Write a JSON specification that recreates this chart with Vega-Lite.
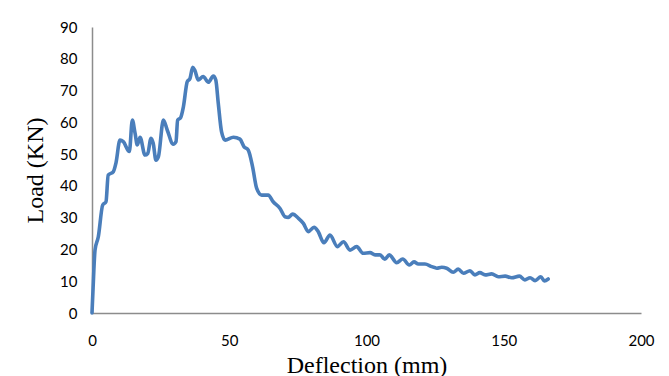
{
  "$schema": "https://vega.github.io/schema/vega-lite/v6.json",
  "autosize": {"type": "none"},
  "width": 549,
  "height": 286,
  "padding": {"left": 92, "top": 27, "right": 28, "bottom": 63},
  "background": "white",
  "config": {"view": {"stroke": null}},
  "data": {"values": [
    {"d": 0, "load": 0},
    {"d": 0.4, "load": 8},
    {"d": 1.1, "load": 19.8},
    {"d": 2.3, "load": 24},
    {"d": 3.9, "load": 34},
    {"d": 5.1, "load": 35},
    {"d": 5.9, "load": 43.4},
    {"d": 7.8, "load": 44.5},
    {"d": 8.7, "load": 47.1},
    {"d": 10.2, "load": 54.4},
    {"d": 11.4, "load": 53.9},
    {"d": 13.6, "load": 50.8},
    {"d": 14.7, "load": 60.7},
    {"d": 15.7, "load": 56.5},
    {"d": 16.5, "load": 52.9},
    {"d": 17.5, "load": 55.3},
    {"d": 19.3, "load": 49.7},
    {"d": 20.3, "load": 50.2},
    {"d": 21.5, "load": 55},
    {"d": 22.3, "load": 53.4},
    {"d": 23.3, "load": 48.1},
    {"d": 24.2, "load": 49.2},
    {"d": 26, "load": 60.7},
    {"d": 27.4, "load": 57.6},
    {"d": 29.6, "load": 53.1},
    {"d": 30.6, "load": 53.9},
    {"d": 31.2, "load": 60.7},
    {"d": 32.3, "load": 61.5},
    {"d": 33.3, "load": 64.9},
    {"d": 34.7, "load": 72.8},
    {"d": 35.7, "load": 73.8},
    {"d": 36.7, "load": 77.3},
    {"d": 37.5, "load": 76.3},
    {"d": 38.7, "load": 73.3},
    {"d": 40.5, "load": 74.4},
    {"d": 42.4, "load": 72.6},
    {"d": 44.2, "load": 74.6},
    {"d": 45.1, "load": 73.3},
    {"d": 46, "load": 66},
    {"d": 47.2, "load": 57},
    {"d": 48.5, "load": 54.4},
    {"d": 51.5, "load": 55.3},
    {"d": 53.9, "load": 54.7},
    {"d": 55.4, "load": 52.3},
    {"d": 56.9, "load": 51.3},
    {"d": 58.5, "load": 46},
    {"d": 60, "load": 39.2},
    {"d": 61.8, "load": 37.1},
    {"d": 64.2, "load": 37.1},
    {"d": 66, "load": 35},
    {"d": 68.5, "load": 32.9},
    {"d": 70.3, "load": 30.3},
    {"d": 71.5, "load": 30.1},
    {"d": 73.1, "load": 31.1},
    {"d": 75.2, "load": 29.8},
    {"d": 77, "load": 28.2},
    {"d": 78.8, "load": 25.6},
    {"d": 80.9, "load": 27},
    {"d": 82.4, "load": 25.6},
    {"d": 84.5, "load": 22.1},
    {"d": 86.7, "load": 24.5},
    {"d": 89.4, "load": 20.9},
    {"d": 91.6, "load": 22.4},
    {"d": 94, "load": 19.8},
    {"d": 96.4, "load": 20.9},
    {"d": 98.8, "load": 18.8},
    {"d": 101.3, "load": 19},
    {"d": 103.1, "load": 18.3},
    {"d": 104.9, "load": 18.3},
    {"d": 106.7, "load": 16.9},
    {"d": 108.3, "load": 18.3},
    {"d": 111, "load": 15.8},
    {"d": 113.2, "load": 17},
    {"d": 115.6, "load": 15.1},
    {"d": 117.3, "load": 16.1},
    {"d": 118.9, "load": 15.4},
    {"d": 121.3, "load": 15.4},
    {"d": 123.8, "load": 14.6},
    {"d": 125.6, "load": 14.1},
    {"d": 127.4, "load": 14.4},
    {"d": 129.2, "load": 14.1},
    {"d": 131.6, "load": 12.8},
    {"d": 133.4, "load": 13.8},
    {"d": 135.3, "load": 12.5},
    {"d": 137.7, "load": 13.3},
    {"d": 139.5, "load": 12},
    {"d": 141.3, "load": 12.7},
    {"d": 143.2, "load": 12},
    {"d": 145.6, "load": 12.3},
    {"d": 148, "load": 11.4},
    {"d": 150.5, "load": 11.6},
    {"d": 152.9, "load": 11.1},
    {"d": 155.7, "load": 11.6},
    {"d": 157.7, "load": 10.4},
    {"d": 159.6, "load": 11.1},
    {"d": 161.4, "load": 10.2},
    {"d": 163.5, "load": 11.4},
    {"d": 164.8, "load": 10.1},
    {"d": 166.2, "load": 10.7}
  ]},
  "mark": {"type": "line", "color": "#4A7EBB", "strokeWidth": 3.6, "interpolate": "monotone", "strokeJoin": "round", "strokeCap": "round"},
  "encoding": {
    "x": {
      "field": "d", "type": "quantitative",
      "scale": {"domain": [0, 200], "nice": false, "zero": true},
      "axis": {
        "title": "Deflection (mm)", "values": [0, 50, 100, 150, 200],
        "grid": false, "ticks": false, "labelPadding": 20, "labelFlush": false,
        "domainColor": "#8c8c8c", "domainWidth": 1.5,
        "labelFont": "Lato", "labelFontSize": 15, "labelColor": "#000000",
        "titleFont": "Liberation Serif", "titleFontSize": 24, "titleFontWeight": "normal",
        "titleColor": "#000000", "titlePadding": 5
      }
    },
    "y": {
      "field": "load", "type": "quantitative",
      "scale": {"domain": [0, 90], "nice": false},
      "axis": {
        "title": "Load (KN)", "values": [0, 10, 20, 30, 40, 50, 60, 70, 80, 90],
        "grid": false, "ticks": false, "labelPadding": 15, "labelFlush": false,
        "domainColor": "#8c8c8c", "domainWidth": 1.5,
        "labelFont": "Lato", "labelFontSize": 15, "labelColor": "#000000",
        "titleFont": "Liberation Serif", "titleFontSize": 24, "titleFontWeight": "normal",
        "titleColor": "#000000", "titlePadding": 12
      }
    }
  }
}
